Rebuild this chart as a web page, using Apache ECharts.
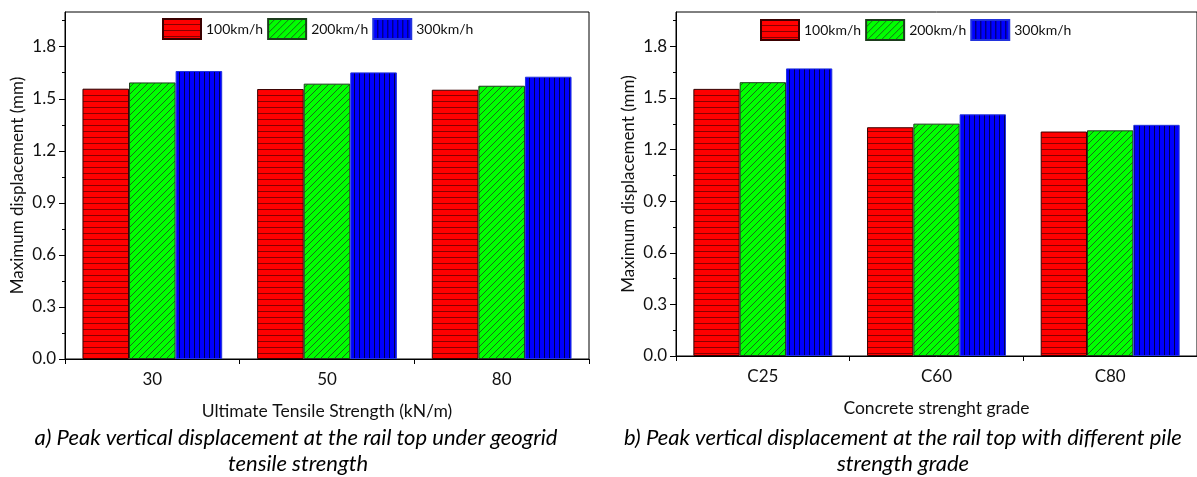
<!DOCTYPE html>
<html>
<head>
<meta charset="utf-8">
<script src="https://cdn.jsdelivr.net/npm/echarts@6/dist/echarts.min.js"></script>
<style>
  html, body { margin: 0; padding: 0; background: #fff; }
  #chart { width: 1197px; height: 477px; }
</style>
</head>
<body>
<div id="chart"></div>
<script>
// Categories
const strengthCats = ['30', '50', '80'];
const gradeCats = ['C25', 'C60', 'C80'];
const speedNames = ['100km/h', '200km/h', '300km/h'];

// Peak displacement (mm) vs geogrid ultimate tensile strength
const strength100 = [1.558, 1.556, 1.552];
const strength200 = [1.594, 1.587, 1.575];
const strength300 = [1.660, 1.652, 1.627];

// Peak displacement (mm) vs pile concrete grade
const grade100 = [1.553, 1.330, 1.305];
const grade200 = [1.592, 1.351, 1.312];
const grade300 = [1.672, 1.405, 1.344];

// Value axis ticks
const majorTicks = [0, 0.3, 0.6, 0.9, 1.2, 1.5, 1.8];
const minorTicks = [0.15, 0.45, 0.75, 1.05, 1.35, 1.65, 1.95];

const FONT = 'Lato, "Noto Sans", sans-serif';

// Hatched fills drawn on small tiles
function makePattern(kind) {
  const c = document.createElement('canvas');
  const ctx = c.getContext('2d');
  if (kind === 'h') {
    c.width = 6; c.height = 6;
    ctx.fillStyle = '#ff0000'; ctx.fillRect(0, 0, 6, 6);
    ctx.fillStyle = '#8a0000'; ctx.fillRect(0, 5, 6, 1);
  } else if (kind === 'd') {
    const s = 7;
    c.width = s; c.height = s;
    ctx.fillStyle = '#00ff00'; ctx.fillRect(0, 0, s, s);
    ctx.strokeStyle = '#1c5a1c'; ctx.lineWidth = 0.9;
    ctx.beginPath();
    ctx.moveTo(0, s); ctx.lineTo(s, 0);
    ctx.moveTo(-1, 1); ctx.lineTo(1, -1);
    ctx.moveTo(s - 1, s + 1); ctx.lineTo(s + 1, s - 1);
    ctx.stroke();
  } else {
    c.width = 5; c.height = 5;
    ctx.fillStyle = '#0000ff'; ctx.fillRect(0, 0, 5, 5);
    ctx.fillStyle = '#000050'; ctx.fillRect(4, 0, 1, 5);
  }
  return { image: c, repeat: 'repeat' };
}

const fills = [makePattern('h'), makePattern('d'), makePattern('v')];
const borders = ['#3a0000', '#1d3d1d', '#2233dd'];

function barSeries(name, data, idx, xi, yi) {
  return {
    type: 'bar',
    name: name,
    data: data,
    xAxisIndex: xi,
    yAxisIndex: yi,
    barGap: '0%',
    barCategoryGap: '20%',
    itemStyle: { color: fills[idx], borderColor: borders[idx], borderWidth: 1 },
    emphasis: { disabled: true }
  };
}

function catAxis(gridIndex, cats, name) {
  return {
    type: 'category',
    gridIndex: gridIndex,
    data: cats,
    position: 'bottom',
    name: name,
    nameLocation: 'middle',
    nameGap: 43,
    nameTextStyle: { fontFamily: FONT, fontSize: 17.5, color: '#111' },
    axisLine: { lineStyle: { color: '#000', width: 1 } },
    axisTick: { alignWithLabel: true, length: 5, lineStyle: { color: '#000' } },
    axisLabel: { fontFamily: FONT, fontSize: 17, color: '#111', margin: 12 }
  };
}

function boundaryAxis(gridIndex, cats) {
  return {
    type: 'category',
    gridIndex: gridIndex,
    data: cats,
    position: 'bottom',
    axisLine: { show: false },
    axisTick: { show: true, alignWithLabel: false, length: 5, lineStyle: { color: '#000' } },
    axisLabel: { show: false }
  };
}

function valAxis(gridIndex) {
  return {
    type: 'value',
    gridIndex: gridIndex,
    min: 0,
    max: 2.0,
    position: 'left',
    name: 'Maximum displacement (mm)',
    nameLocation: 'middle',
    nameGap: 39,
    nameTextStyle: { fontFamily: FONT, fontSize: 17, color: '#111' },
    axisLine: { show: true, lineStyle: { color: '#000', width: 1 } },
    axisTick: { show: true, length: 6, customValues: majorTicks, lineStyle: { color: '#000' } },
    axisLabel: {
      fontFamily: FONT, fontSize: 17, color: '#111', margin: 9,
      customValues: majorTicks,
      formatter: v => v.toFixed(1)
    },
    splitLine: { show: false }
  };
}

function minorAxis(gridIndex) {
  return {
    type: 'value',
    gridIndex: gridIndex,
    min: 0,
    max: 2.0,
    position: 'left',
    axisLine: { show: false },
    axisTick: { show: true, length: 3, customValues: minorTicks, lineStyle: { color: '#000' } },
    axisLabel: { show: false },
    splitLine: { show: false }
  };
}

function legendAt(left, top) {
  return {
    left: left,
    top: top,
    data: speedNames,
    icon: 'rect',
    itemWidth: 38,
    itemHeight: 20,
    itemGap: 4,
    selectedMode: false,
    textStyle: { fontFamily: FONT, fontSize: 14, color: '#111' }
  };
}

const captionFont = 'italic 22px ' + FONT;

const chart = echarts.init(document.getElementById('chart'), null, { renderer: 'canvas' });
chart.setOption({
  backgroundColor: '#fff',
  animation: false,
  grid: [
    { left: 65, top: 12, width: 524, height: 347, show: true, borderColor: '#000', borderWidth: 1, backgroundColor: 'transparent' },
    { left: 676, top: 12, width: 526, height: 344, show: true, borderColor: '#000', borderWidth: 1, backgroundColor: 'transparent' }
  ],
  legend: [legendAt(157, 13), legendAt(755, 14)],
  xAxis: [
    catAxis(0, strengthCats, 'Ultimate Tensile Strength (kN/m)'),
    boundaryAxis(0, strengthCats),
    catAxis(1, gradeCats, 'Concrete strenght grade'),
    boundaryAxis(1, gradeCats)
  ],
  yAxis: [valAxis(0), minorAxis(0), valAxis(1), minorAxis(1)],
  series: [
    barSeries(speedNames[0], strength100, 0, 0, 0),
    barSeries(speedNames[1], strength200, 1, 0, 0),
    barSeries(speedNames[2], strength300, 2, 0, 0),
    barSeries(speedNames[0], grade100, 0, 2, 2),
    barSeries(speedNames[1], grade200, 1, 2, 2),
    barSeries(speedNames[2], grade300, 2, 2, 2)
  ],
  graphic: [
    { type: 'text', x: 296, y: 438, style: { text: 'a) Peak vertical displacement at the rail top under geogrid', font: captionFont, fill: '#000', textAlign: 'center', textVerticalAlign: 'middle' } },
    { type: 'text', x: 298, y: 464, style: { text: 'tensile strength', font: captionFont, fill: '#000', textAlign: 'center', textVerticalAlign: 'middle' } },
    { type: 'text', x: 903, y: 438, style: { text: 'b) Peak vertical displacement at the rail top with different pile', font: captionFont, fill: '#000', textAlign: 'center', textVerticalAlign: 'middle' } },
    { type: 'text', x: 903, y: 464, style: { text: 'strength grade', font: captionFont, fill: '#000', textAlign: 'center', textVerticalAlign: 'middle' } }
  ]
});
</script>
</body>
</html>
